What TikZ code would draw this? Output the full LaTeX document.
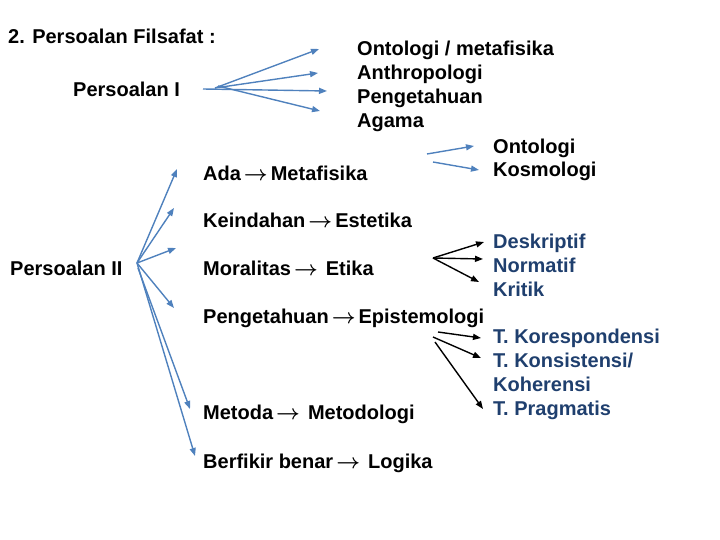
\documentclass[tikz,border=0pt]{standalone}
\usepackage{fontspec}
\setmainfont{Liberation Sans}
\usetikzlibrary{arrows.meta}
\definecolor{arrblue}{RGB}{79,129,189}
\definecolor{txtblue}{RGB}{31,63,110}
\newcommand{\myarr}{\hspace{3pt}{\boldmath$\rightarrow$}\hspace{3pt}}
\newcommand{\myarrw}{\hspace{3pt}{\boldmath$\rightarrow$}\hspace{8pt}}
\begin{document}
\begin{tikzpicture}[x=1pt,y=-1pt,
  lbl/.style={anchor=base west,inner sep=0pt,font=\fontsize{20}{24}\selectfont\bfseries},
  blbl/.style={lbl,text=txtblue},
  barrow/.style={draw=arrblue,line width=1.4pt,-{Triangle[length=8pt,width=6pt]}},
  karrow/.style={draw=black,line width=1.4pt,-{Triangle[length=8pt,width=6pt]}}]
\useasboundingbox (0,0) rectangle (720,540);
% texts
\node[lbl] (title) at (8,44) {2. Persoalan Filsafat :};
\node[lbl] (p1) at (73,97) {Persoalan I};
\node[lbl] (on1) at (357,56) {Ontologi / metafisika};
\node[lbl] (an1) at (357,80) {Anthropologi};
\node[lbl] (pe1) at (357,104) {Pengetahuan};
\node[lbl] (ag1) at (357,128) {Agama};
\node[lbl] (ada) at (203,181) {Ada\myarr Metafisika};
\node[lbl] (ont) at (493,154) {Ontologi};
\node[lbl] (kos) at (493,177) {Kosmologi};
\node[lbl] (kei) at (203,228) {Keindahan\myarr Estetika};
\node[lbl] (p2) at (10,275) {Persoalan II};
\node[lbl] (mor) at (203,275) {Moralitas\myarrw Etika};
\node[blbl] (des) at (493,248) {Deskriptif};
\node[blbl] (nor) at (493,272) {Normatif};
\node[blbl] (kri) at (493,296) {Kritik};
\node[lbl] (epi) at (203,323) {Pengetahuan\myarr Epistemologi};
\node[blbl] (tk1) at (493,343) {T. Korespondensi};
\node[blbl] (tk2) at (493,367) {T. Konsistensi/};
\node[blbl] (koh) at (493,391) {Koherensi};
\node[blbl] (tp) at (493,415) {T. Pragmatis};
\node[lbl] (met) at (203,419) {Metoda\myarrw Metodologi};
\node[lbl] (ber) at (203,468) {Berfikir benar\myarrw Logika};
% coordinates
\coordinate (f1a) at (215,88);
\coordinate (f1b) at (203,89);
\coordinate (f1c) at (218,86);
\coordinate (t11) at (319,49);
\coordinate (t12) at (318,73);
\coordinate (t13) at (327,91);
\coordinate (t14) at (320,111);
\coordinate (f2a) at (427,154);
\coordinate (f2b) at (433,162);
\coordinate (t21) at (474,146);
\coordinate (t22) at (479,170);
\coordinate (f3) at (137,263);
\coordinate (f3b) at (138,268);
\coordinate (t31) at (177,169);
\coordinate (t32) at (174,208);
\coordinate (t33) at (176,248);
\coordinate (t34) at (174,308);
\coordinate (t35) at (190,409);
\coordinate (t36) at (195,456);
\coordinate (f4) at (433,258);
\coordinate (t41) at (484,242);
\coordinate (t42) at (483,259);
\coordinate (t43) at (479,282);
\coordinate (f5a) at (438,332);
\coordinate (f5b) at (433,337);
\coordinate (f5c) at (435,342);
\coordinate (t51) at (481,338);
\coordinate (t52) at (481,358);
\coordinate (t53) at (483,409);
% connectors
\draw[barrow] (f1a) -- (t11);
\draw[barrow] (f1a) -- (t12);
\draw[barrow] (f1b) -- (t13);
\draw[barrow] (f1c) -- (t14);
\draw[barrow] (f2a) -- (t21);
\draw[barrow] (f2b) -- (t22);
\draw[barrow] (f3) -- (t31);
\draw[barrow] (f3) -- (t32);
\draw[barrow] (f3) -- (t33);
\draw[barrow] (f3) -- (t34);
\draw[barrow] (f3b) -- (t35);
\draw[barrow] (f3) -- (t36);
\draw[karrow] (f4) -- (t41);
\draw[karrow] (f4) -- (t42);
\draw[karrow] (f4) -- (t43);
\draw[karrow] (f5a) -- (t51);
\draw[karrow] (f5b) -- (t52);
\draw[karrow] (f5c) -- (t53);
\end{tikzpicture}
\end{document}
